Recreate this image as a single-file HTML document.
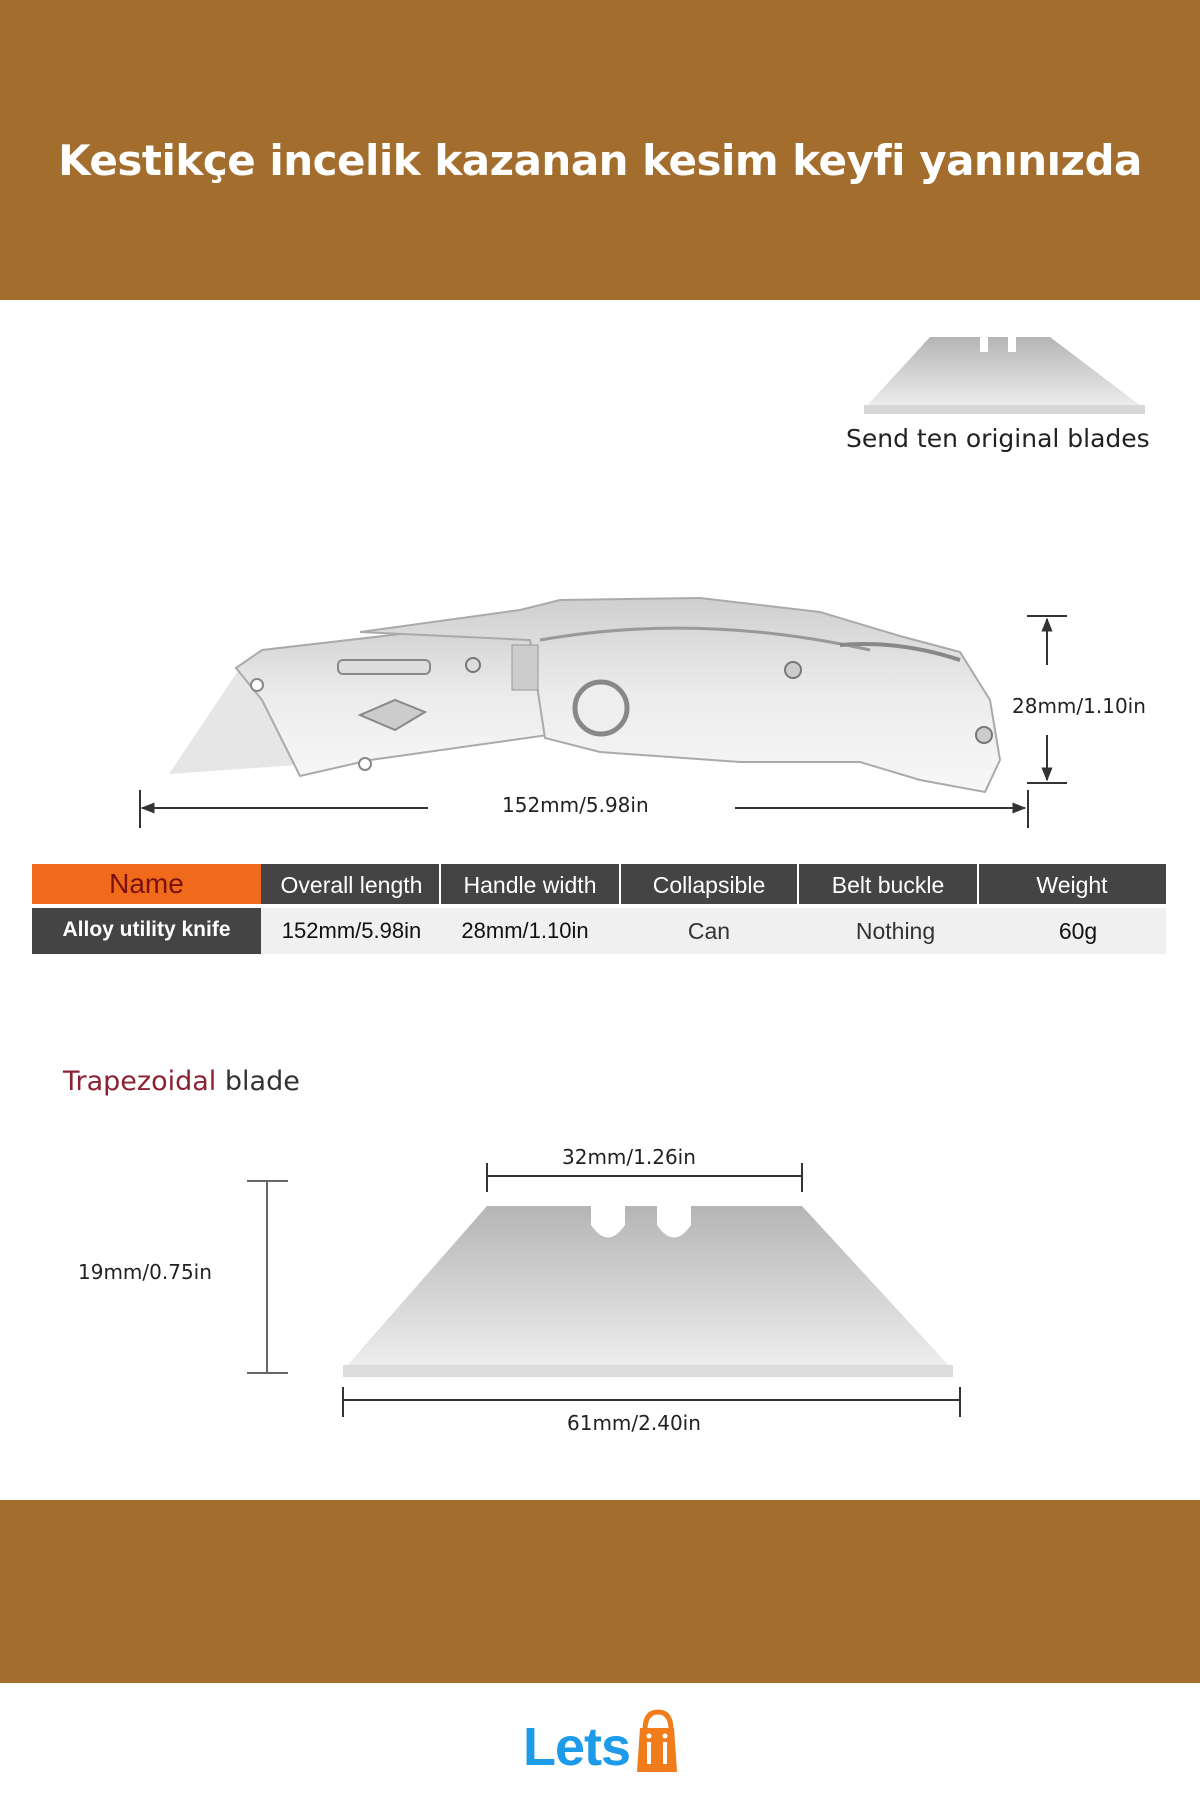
<!DOCTYPE html>
<html><head><meta charset="utf-8"><style>
html,body{margin:0;padding:0;width:1200px;height:1800px;background:#fff;overflow:hidden;font-family:"Liberation Sans",sans-serif}
.band{position:absolute;left:0;width:1200px;background:#A36E2D}
.t{position:absolute;white-space:nowrap}
</style></head><body>
<div class="band" style="top:0;height:300px"></div>
<div class="t" style="left:0;width:1200px;top:136px;text-align:center;color:#fff;font-weight:bold;font-size:42px;font-family:'DejaVu Sans','Liberation Sans',sans-serif;letter-spacing:-0.5px">Kestikçe incelik kazanan kesim keyfi yanınızda</div>
<div class="band" style="top:1500px;height:183px"></div>

<svg width="1200" height="1800" style="position:absolute;left:0;top:0" xmlns="http://www.w3.org/2000/svg">
<defs>
<linearGradient id="g1" x1="0" y1="0" x2="0" y2="1"><stop offset="0" stop-color="#cfcfcf"/><stop offset="0.5" stop-color="#ececec"/><stop offset="1" stop-color="#f7f7f7"/></linearGradient>
<linearGradient id="g2" x1="0" y1="0" x2="0" y2="1"><stop offset="0" stop-color="#b5b5b5"/><stop offset="1" stop-color="#efefef"/></linearGradient>
<marker id="ar" viewBox="0 0 10 10" refX="9" refY="5" markerWidth="7" markerHeight="7" orient="auto-start-reverse"><path d="M0,1 L10,5 L0,9 Z" fill="#333"/></marker>
</defs>
<path d="M930,337 L980,337 L980,352 L988,352 L988,337 L1008,337 L1008,352 L1016,352 L1016,337 L1050,337 L1145,409 L864,409 Z" fill="url(#g2)"/>
<rect x="864" y="405" width="281" height="9" fill="#d8d8d8"/>
<path d="M169,774 L240,668 L330,690 L370,760 Z" fill="#e6e6e6"/>
<path d="M236,668 L262,650 L540,618 L548,735 L370,760 L300,776 L262,700 Z" fill="url(#g1)" stroke="#aaa" stroke-width="2"/>
<path d="M360,632 L520,610 L560,600 L700,598 L820,612 L900,636 L960,652 L990,700 L1000,760 L985,792 L920,780 L860,762 L740,762 L600,752 L545,738 L530,640 Z" fill="url(#g1)" stroke="#aaa" stroke-width="2"/>
<path d="M540,640 Q700,612 870,650" fill="none" stroke="#999" stroke-width="3"/>
<path d="M840,645 Q900,640 960,660" fill="none" stroke="#888" stroke-width="4"/>
<rect x="338" y="660" width="92" height="14" rx="5" fill="#ddd" stroke="#888" stroke-width="2"/>
<path d="M360,715 L395,700 L425,712 L395,730 Z" fill="#ccc" stroke="#888" stroke-width="2"/>
<rect x="512" y="645" width="26" height="45" fill="#ccc" stroke="#999"/>
<circle cx="601" cy="708" r="26" fill="#eee" stroke="#888" stroke-width="5"/>
<circle cx="473" cy="665" r="7" fill="#ddd" stroke="#777" stroke-width="2"/>
<circle cx="793" cy="670" r="8" fill="#ccc" stroke="#777" stroke-width="2"/>
<circle cx="984" cy="735" r="8" fill="#ccc" stroke="#777" stroke-width="2"/>
<circle cx="365" cy="764" r="6" fill="#fff" stroke="#888" stroke-width="2"/>
<circle cx="257" cy="685" r="6" fill="#fff" stroke="#888" stroke-width="2"/>
<line x1="140" y1="790" x2="140" y2="828" stroke="#333" stroke-width="2"/>
<line x1="1028" y1="790" x2="1028" y2="828" stroke="#333" stroke-width="2"/>
<line x1="142" y1="808" x2="428" y2="808" stroke="#333" stroke-width="2" marker-start="url(#ar)"/>
<line x1="735" y1="808" x2="1025" y2="808" stroke="#333" stroke-width="2" marker-end="url(#ar)"/>
<line x1="1027" y1="616" x2="1067" y2="616" stroke="#333" stroke-width="2"/>
<line x1="1027" y1="783" x2="1067" y2="783" stroke="#333" stroke-width="2"/>
<line x1="1047" y1="665" x2="1047" y2="619" stroke="#333" stroke-width="2" marker-end="url(#ar)"/>
<line x1="1047" y1="735" x2="1047" y2="780" stroke="#333" stroke-width="2" marker-end="url(#ar)"/>
<rect x="32" y="864" width="229" height="40" fill="#EF6A1A"/>
<rect x="261" y="864" width="905" height="40" fill="#444"/>
<g stroke="#fff" stroke-width="2"><line x1="440" y1="864" x2="440" y2="904"/><line x1="620" y1="864" x2="620" y2="904"/><line x1="798" y1="864" x2="798" y2="904"/><line x1="978" y1="864" x2="978" y2="904"/></g>
<rect x="32" y="908" width="229" height="46" fill="#444"/>
<rect x="261" y="908" width="905" height="46" fill="#f0f0f0"/>
<path d="M487,1206 L591,1206 L591,1225 Q608,1250 625,1225 L625,1206 L657,1206 L657,1225 Q674,1250 691,1225 L691,1206 L802,1206 L953,1370 L343,1370 Z" fill="url(#g2)"/>
<rect x="343" y="1365" width="610" height="12" fill="#dcdcdc"/>
<g stroke="#333" stroke-width="2"><line x1="487" y1="1163" x2="487" y2="1192"/><line x1="802" y1="1163" x2="802" y2="1192"/><line x1="487" y1="1176" x2="802" y2="1176"/>
<line x1="343" y1="1387" x2="343" y2="1417"/><line x1="960" y1="1387" x2="960" y2="1417"/><line x1="343" y1="1400" x2="960" y2="1400"/></g>
<g stroke="#666" stroke-width="2"><line x1="247" y1="1181" x2="288" y2="1181"/><line x1="247" y1="1373" x2="288" y2="1373"/><line x1="267" y1="1181" x2="267" y2="1373"/></g>
<path d="M645,1730 Q645,1712 658,1712 Q671,1712 671,1730" fill="none" stroke="#F07C1B" stroke-width="5"/>
<path d="M640,1728 L674,1728 L677,1772 L637,1772 Z" fill="#F07C1B"/>
<rect x="647" y="1742" width="4" height="22" fill="#fff"/><rect x="663" y="1742" width="4" height="22" fill="#fff"/>
<circle cx="649" cy="1736" r="2.5" fill="#fff"/><circle cx="665" cy="1736" r="2.5" fill="#fff"/>
</svg>

<div class="t" style="left:846px;top:424px;font-size:25px;color:#222;font-family:'DejaVu Sans',sans-serif">Send ten original blades</div>
<div class="t" style="left:502px;top:793px;font-size:20px;color:#222;font-family:'DejaVu Sans',sans-serif">152mm/5.98in</div>
<div class="t" style="left:1012px;top:694px;font-size:20px;color:#222;font-family:'DejaVu Sans',sans-serif">28mm/1.10in</div>

<div class="t" style="left:32px;width:229px;top:868px;text-align:center;font-size:28px;color:#7a1010">Name</div>
<div class="t" style="left:263px;width:177px;top:872px;text-align:center;font-size:23px;color:#fff">Overall length</div>
<div class="t" style="left:440px;width:180px;top:872px;text-align:center;font-size:23px;color:#fff">Handle width</div>
<div class="t" style="left:620px;width:178px;top:872px;text-align:center;font-size:23px;color:#fff">Collapsible</div>
<div class="t" style="left:798px;width:180px;top:872px;text-align:center;font-size:23px;color:#fff">Belt buckle</div>
<div class="t" style="left:978px;width:188px;top:872px;text-align:center;font-size:23px;color:#fff">Weight</div>
<div class="t" style="left:32px;width:229px;top:918px;text-align:center;font-size:21px;color:#fff;font-weight:bold">Alloy utility knife</div>
<div class="t" style="left:263px;width:177px;top:918px;text-align:center;font-size:22px;color:#111">152mm/5.98in</div>
<div class="t" style="left:440px;width:170px;top:918px;text-align:center;font-size:22px;color:#111">28mm/1.10in</div>
<div class="t" style="left:620px;width:178px;top:918px;text-align:center;font-size:23px;color:#333">Can</div>
<div class="t" style="left:798px;width:195px;top:918px;text-align:center;font-size:23px;color:#333">Nothing</div>
<div class="t" style="left:978px;width:200px;top:918px;text-align:center;font-size:23px;color:#111">60g</div>

<div class="t" style="left:63px;top:1066px;font-size:27px;font-family:'DejaVu Sans',sans-serif"><span style="color:#8B2232">Trapezoidal</span> <span style="color:#333">blade</span></div>
<div class="t" style="left:562px;top:1145px;font-size:20px;color:#222;font-family:'DejaVu Sans',sans-serif">32mm/1.26in</div>
<div class="t" style="left:78px;top:1260px;font-size:20px;color:#222;font-family:'DejaVu Sans',sans-serif">19mm/0.75in</div>
<div class="t" style="left:567px;top:1411px;font-size:20px;color:#222;font-family:'DejaVu Sans',sans-serif">61mm/2.40in</div>

<div class="t" style="left:523px;top:1716px;font-size:54px;font-weight:bold;color:#1E9BE8;letter-spacing:-1px">Lets</div>
</body></html>
